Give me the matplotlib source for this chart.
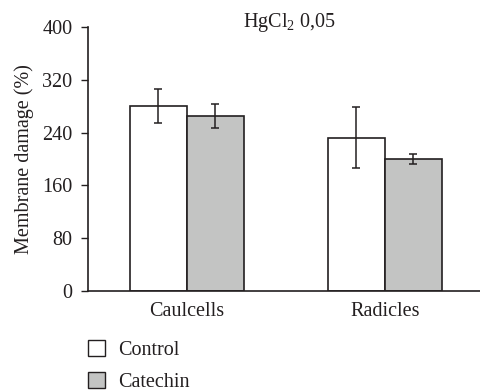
import numpy as np
import matplotlib
matplotlib.use('Agg')
import matplotlib.pyplot as plt
from matplotlib.patches import Patch

plt.rcParams['font.family'] = ['Liberation Serif', 'DejaVu Serif']
plt.rcParams['mathtext.fontset'] = 'custom'
plt.rcParams['mathtext.rm'] = 'Liberation Serif'

groups = ['Caulcells', 'Radicles']
control = [280, 232]
control_err = [26, 46]
catechin = [265, 200]
catechin_err = [18, 7]

ink = '#231f20'
fs = 14.5

fig = plt.figure(figsize=(4.8, 3.91), dpi=100)
ax = fig.add_axes([0.183, 0.256, 0.817, 0.675])

x = np.arange(len(groups))
w = 0.288
ax.bar(x - w / 2, control, w, color='white', edgecolor=ink, linewidth=1.2,
       yerr=control_err, capsize=3, error_kw=dict(elinewidth=1.1, capthick=1.1, ecolor=ink))
ax.bar(x + w / 2, catechin, w, color='#c3c4c3', edgecolor=ink, linewidth=1.2,
       yerr=catechin_err, capsize=3, error_kw=dict(elinewidth=1.1, capthick=1.1, ecolor=ink))

ax.set_xlim(-0.5, 1.48)
ax.set_ylim(0, 400)
ax.set_yticks([0, 80, 160, 240, 320, 400])
ax.set_xticks(x)
ax.set_xticklabels(groups)
ax.tick_params(axis='x', length=0, labelsize=fs, pad=8, labelcolor=ink)
ax.tick_params(axis='y', length=5, width=1, labelsize=fs, direction='out', color=ink,
               labelcolor=ink, pad=6)
ax.spines['top'].set_visible(False)
ax.spines['right'].set_visible(False)
for s in ['left', 'bottom']:
    ax.spines[s].set_linewidth(1.2)
    ax.spines[s].set_color(ink)
ax.set_ylabel('Membrane damage (%)', fontsize=fs, labelpad=6, color=ink)
fig.text(0.604, 0.942, 'HgCl$_2$ 0,05', fontsize=fs, color=ink, ha='center', va='center')

handles = [Patch(facecolor='white', edgecolor=ink, linewidth=1),
           Patch(facecolor='#c3c4c3', edgecolor=ink, linewidth=1)]
fig.legend(handles, ['Control', 'Catechin'], loc='upper left', bbox_to_anchor=(0.183, 0.131),
           frameon=False, fontsize=fs, handlelength=0.85, handleheight=0.85,
           handletextpad=0.65, labelspacing=0.6, borderaxespad=0, borderpad=0,
           labelcolor=ink)

fig.savefig('out.png', dpi=100)
